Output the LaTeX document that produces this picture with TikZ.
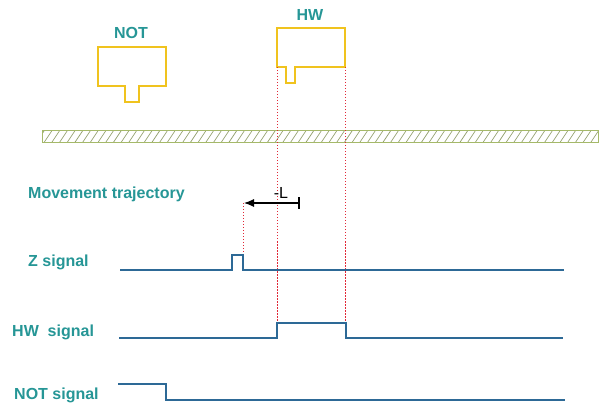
\documentclass[tikz,border=0pt]{standalone}
\usepackage{fontspec}
\setmainfont{Liberation Sans}
\usepackage{tikz}
\usetikzlibrary{arrows.meta}

\definecolor{labelteal}{RGB}{38,150,150}
\definecolor{sigblue}{RGB}{45,105,150}
\definecolor{sensoryellow}{RGB}{240,195,30}
\definecolor{railgreen}{RGB}{165,185,105}
\definecolor{guidered}{RGB}{225,40,55}

\begin{document}
\begin{tikzpicture}[x=1pt,y=-1pt,
   lbl/.style={font=\bfseries\fontsize{16}{18}\selectfont,text=labelteal,inner sep=0pt,anchor=base west},
   sig/.style={draw=sigblue,line width=1.2pt},
   guide/.style={draw=guidered,dash pattern=on 1.5pt off 1.5pt,line width=1pt},
   sensor/.style={draw=sensoryellow,line width=1.6pt}]
   \useasboundingbox (0,0) rectangle (600,414);
   % sensors
   \draw[sensor] (98,47) -- (166,47) -- (166,86) -- (139,86) -- (139,102) -- (125,102) -- (125,86) -- (98,86) -- cycle;
   \node[lbl,anchor=base] (nottxt) at (131,39) {NOT};
   \draw[sensor] (277,28) -- (345,28) -- (345,67) -- (295,67) -- (295,83) -- (286,83) -- (286,67) -- (277,67) -- cycle;
   \node[lbl,anchor=base] (hwtxt) at (310,21) {HW};
   % rail
   \begin{scope}
      \clip (42,131) rectangle (598,143);
      \foreach \x in {36,43.7,...,610}
         \draw[railgreen!60!gray,line width=0.7pt] (\x,143) -- (\x+8,131);
   \end{scope}
   \draw[railgreen,line width=1pt] (42,131) rectangle (598,143);
   % guides
   \draw[guide] (277,67) -- (277,323);
   \draw[guide] (345,67) -- (345,323);
   \coordinate (zedge) at (244,203);
   \coordinate (lstart) at (299,203);
   \draw[guide] (243,203) -- (243,255);
   \draw[-{Latex[length=10pt,width=8pt]},line width=1.1pt] (lstart) -- (zedge);
   \draw[line width=1.1pt] ([yshift=-6pt]lstart) -- ([yshift=6pt]lstart);
   \node[font=\fontsize{16}{18}\selectfont,inner sep=0pt,anchor=base] (lval) at (281,199) {-L};
   % labels
   \node[lbl] (movetxt) at (28,199) {Movement trajectory};
   \node[lbl] (ztxt) at (28,266) {Z signal};
   \node[lbl] (hwsig) at (12,336) {HW\ \ signal};
   \node[lbl] (notsig) at (14,399) {NOT signal};
   % signals
   \draw[sig] (120,270) -- (232,270) -- (232,255) -- (243,255) -- (243,270) -- (564,270);
   \draw[sig] (119,338) -- (277,338) -- (277,323) -- (346,323) -- (346,338) -- (563,338);
   \draw[sig] (118,384) -- (166,384) -- (166,400) -- (565,400);
\end{tikzpicture}
\end{document}
